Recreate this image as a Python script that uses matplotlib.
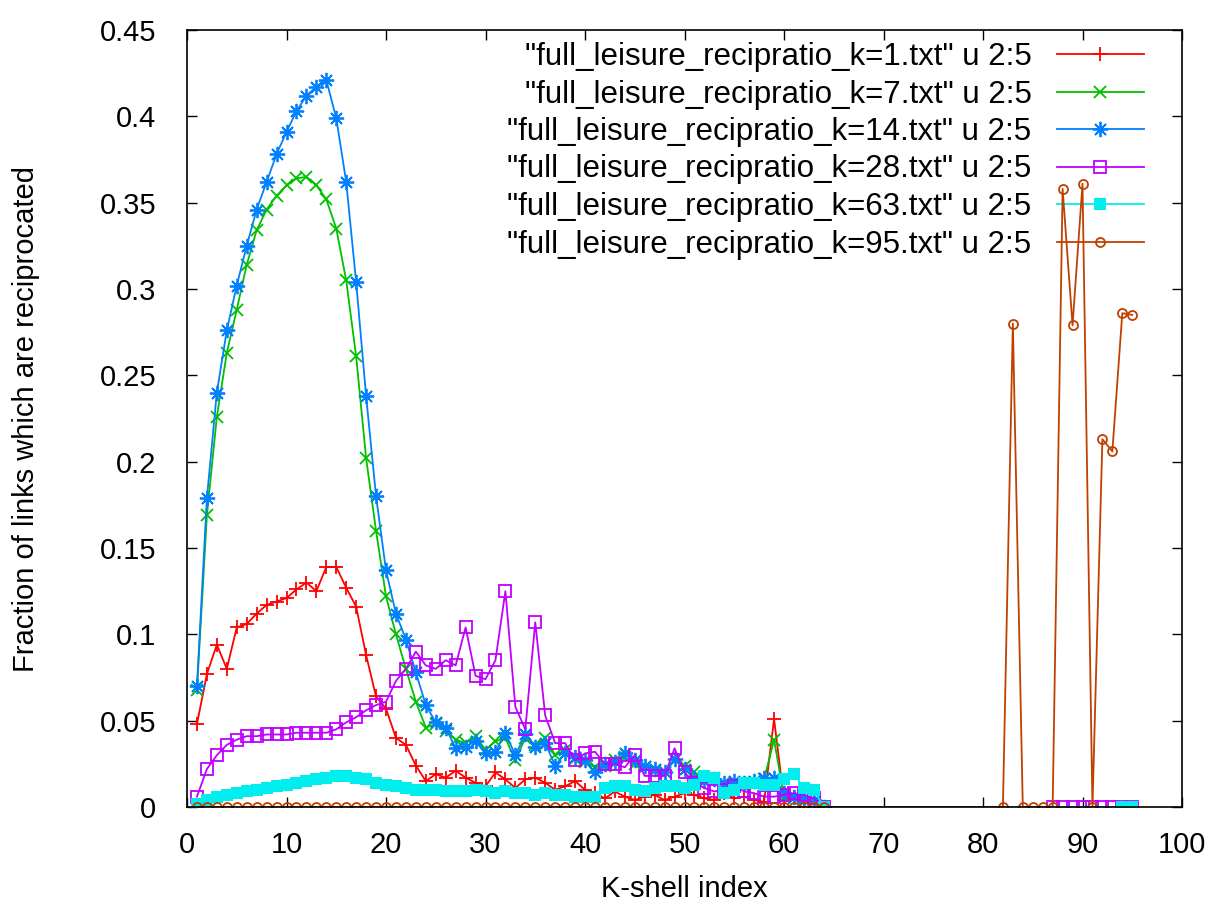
import matplotlib
matplotlib.use("Agg")
import matplotlib.pyplot as plt
from matplotlib.ticker import FuncFormatter, MultipleLocator

plt.rcParams['font.family'] = ['Liberation Sans', 'DejaVu Sans']

# K-shell indices present in the files
shells = list(range(1, 65))
shells_k28 = shells + [87, 88, 89, 90, 91, 92, 93, 94, 95]
shells_k63 = shells + [94, 95]
shells_k95 = shells + [82, 83, 84, 85, 86, 87, 88, 89, 90, 91, 92, 93, 94, 95]

# fraction of reciprocated links
k1 = [0.048, 0.077, 0.094, 0.080, 0.104, 0.106, 0.112, 0.117, 0.119, 0.121,
      0.126, 0.130, 0.125, 0.139, 0.139, 0.127, 0.116, 0.088, 0.064, 0.057,
      0.040, 0.036, 0.024, 0.015, 0.019, 0.017, 0.021, 0.017, 0.014, 0.012,
      0.020, 0.016, 0.011, 0.016, 0.017, 0.014, 0.010, 0.012, 0.015, 0.010,
      0.008, 0.005, 0.009, 0.006, 0.004, 0.006, 0.007, 0.004, 0.006, 0.008,
      0.007, 0.005, 0.004, 0.008, 0.005, 0.006, 0.004, 0.003, 0.051, 0.004,
      0.006, 0.003, 0.005, 0.0]
k7 = [0.068, 0.169, 0.226, 0.263, 0.288, 0.314, 0.334, 0.346, 0.354, 0.360,
      0.364, 0.365, 0.360, 0.352, 0.335, 0.305, 0.261, 0.202, 0.160, 0.122,
      0.100, 0.080, 0.061, 0.046, 0.048, 0.044, 0.039, 0.037, 0.041, 0.033,
      0.038, 0.040, 0.027, 0.040, 0.036, 0.040, 0.030, 0.033, 0.028, 0.026,
      0.023, 0.024, 0.027, 0.029, 0.025, 0.023, 0.021, 0.020, 0.027, 0.024,
      0.020, 0.017, 0.017, 0.014, 0.013, 0.012, 0.014, 0.016, 0.039, 0.006,
      0.005, 0.004, 0.003, 0.0]
k14 = [0.070, 0.179, 0.240, 0.276, 0.302, 0.325, 0.346, 0.362, 0.378, 0.391,
       0.403, 0.412, 0.417, 0.421, 0.399, 0.362, 0.304, 0.238, 0.180, 0.137,
       0.112, 0.097, 0.078, 0.059, 0.049, 0.046, 0.034, 0.035, 0.038, 0.031,
       0.032, 0.043, 0.030, 0.042, 0.035, 0.037, 0.024, 0.031, 0.029, 0.027,
       0.020, 0.025, 0.026, 0.031, 0.027, 0.024, 0.022, 0.020, 0.028, 0.022,
       0.017, 0.015, 0.016, 0.014, 0.015, 0.014, 0.015, 0.017, 0.017, 0.008,
       0.006, 0.005, 0.004, 0.0]
k28 = [0.006, 0.022, 0.030, 0.036, 0.039, 0.041, 0.041, 0.042, 0.042, 0.042,
       0.043, 0.043, 0.043, 0.043, 0.045, 0.049, 0.052, 0.056, 0.059, 0.061,
       0.073, 0.080, 0.090, 0.082, 0.080, 0.085, 0.082, 0.104, 0.076, 0.074,
       0.085, 0.125, 0.058, 0.045, 0.107, 0.053, 0.037, 0.037, 0.027, 0.031,
       0.032, 0.025, 0.025, 0.023, 0.030, 0.018, 0.018, 0.018, 0.034, 0.020,
       0.014, 0.011, 0.009, 0.010, 0.012, 0.009, 0.008, 0.006, 0.006, 0.007,
       0.008, 0.007, 0.005, 0.0,
       0.0, 0.0, 0.0, 0.0, 0.0, 0.0, 0.0, 0.0, 0.0]
k63 = [0.002, 0.004, 0.006, 0.007, 0.008, 0.009, 0.010, 0.011, 0.012, 0.013,
       0.014, 0.015, 0.016, 0.017, 0.018, 0.018, 0.017, 0.016, 0.014, 0.013,
       0.012, 0.011, 0.010, 0.010, 0.010, 0.009, 0.009, 0.009, 0.010, 0.009,
       0.008, 0.009, 0.008, 0.008, 0.007, 0.008, 0.007, 0.007, 0.006, 0.006,
       0.006, 0.011, 0.012, 0.012, 0.010, 0.009, 0.011, 0.012, 0.012, 0.011,
       0.013, 0.018, 0.017, 0.008, 0.010, 0.014, 0.014, 0.013, 0.013, 0.016,
       0.019, 0.011, 0.010, 0.0,
       0.0, 0.0]
k95 = [0.0] * 64 + [0.0, 0.280, 0.0, 0.0, 0.0, 0.0, 0.358, 0.279, 0.361, 0.0,
                    0.213, 0.206, 0.286, 0.285]

series = [
    ('"full_leisure_recipratio_k=1.txt" u 2:5', shells, k1),
    ('"full_leisure_recipratio_k=7.txt" u 2:5', shells, k7),
    ('"full_leisure_recipratio_k=14.txt" u 2:5', shells, k14),
    ('"full_leisure_recipratio_k=28.txt" u 2:5', shells_k28, k28),
    ('"full_leisure_recipratio_k=63.txt" u 2:5', shells_k63, k63),
    ('"full_leisure_recipratio_k=95.txt" u 2:5', shells_k95, k95),
]

# gnuplot png default line colours / point types
styles = [
    dict(color='#ff0000', marker='+', ms=10, mew=1.3),
    dict(color='#00c000', marker='x', ms=8, mew=1.3),
    dict(color='#0080ff', marker=(8, 2, 0), ms=11, mew=1.3),
    dict(color='#c000ff', marker='s', ms=8, mew=1.3, mfc='none'),
    dict(color='#00eeee', marker='s', ms=9, mew=0),
    dict(color='#c04000', marker='o', ms=6.5, mew=1.3, mfc='none'),
]

fig = plt.figure(figsize=(12.18, 9.09), dpi=100)
ax = fig.add_axes([187 / 1218, 1 - 807 / 909, 995 / 1218, 777 / 909])

for (label, xs, ys), st in zip(series, styles):
    ax.plot(xs, ys, lw=1.3, label=label, **st)

ax.set_xlim(0, 100)
ax.set_ylim(0, 0.45)
ax.xaxis.set_major_locator(MultipleLocator(10))
ax.yaxis.set_major_locator(MultipleLocator(0.05))
ax.yaxis.set_major_formatter(FuncFormatter(lambda v, p: '%g' % round(v, 3)))
ax.tick_params(direction='in', length=7, width=1, top=True, right=True,
               labelsize=21, colors='black')
ax.tick_params(axis='x', pad=17)
ax.tick_params(axis='y', pad=22)
for s in ax.spines.values():
    s.set_linewidth(1.2)

ax.set_xlabel('K-shell index', fontsize=21)
ax.set_ylabel('Fraction of links which are reciprocated', fontsize=21)
ax.xaxis.label.set_va('center')
ax.yaxis.label.set_va('center')
ax.xaxis.set_label_coords(0.5, (807 - 889) / 777)
ax.yaxis.set_label_coords((26 - 187) / 995, 0.5)

leg = ax.legend(loc='upper right', bbox_to_anchor=((1144 - 187) / 995, (807 - 42) / 777),
                frameon=False, markerfirst=False, numpoints=1, fontsize=22.5,
                handlelength=2.8, handletextpad=0.8, labelspacing=0.24,
                borderaxespad=0, borderpad=0)
leg.set_zorder(1)

fig.savefig('out.png', dpi=100)
